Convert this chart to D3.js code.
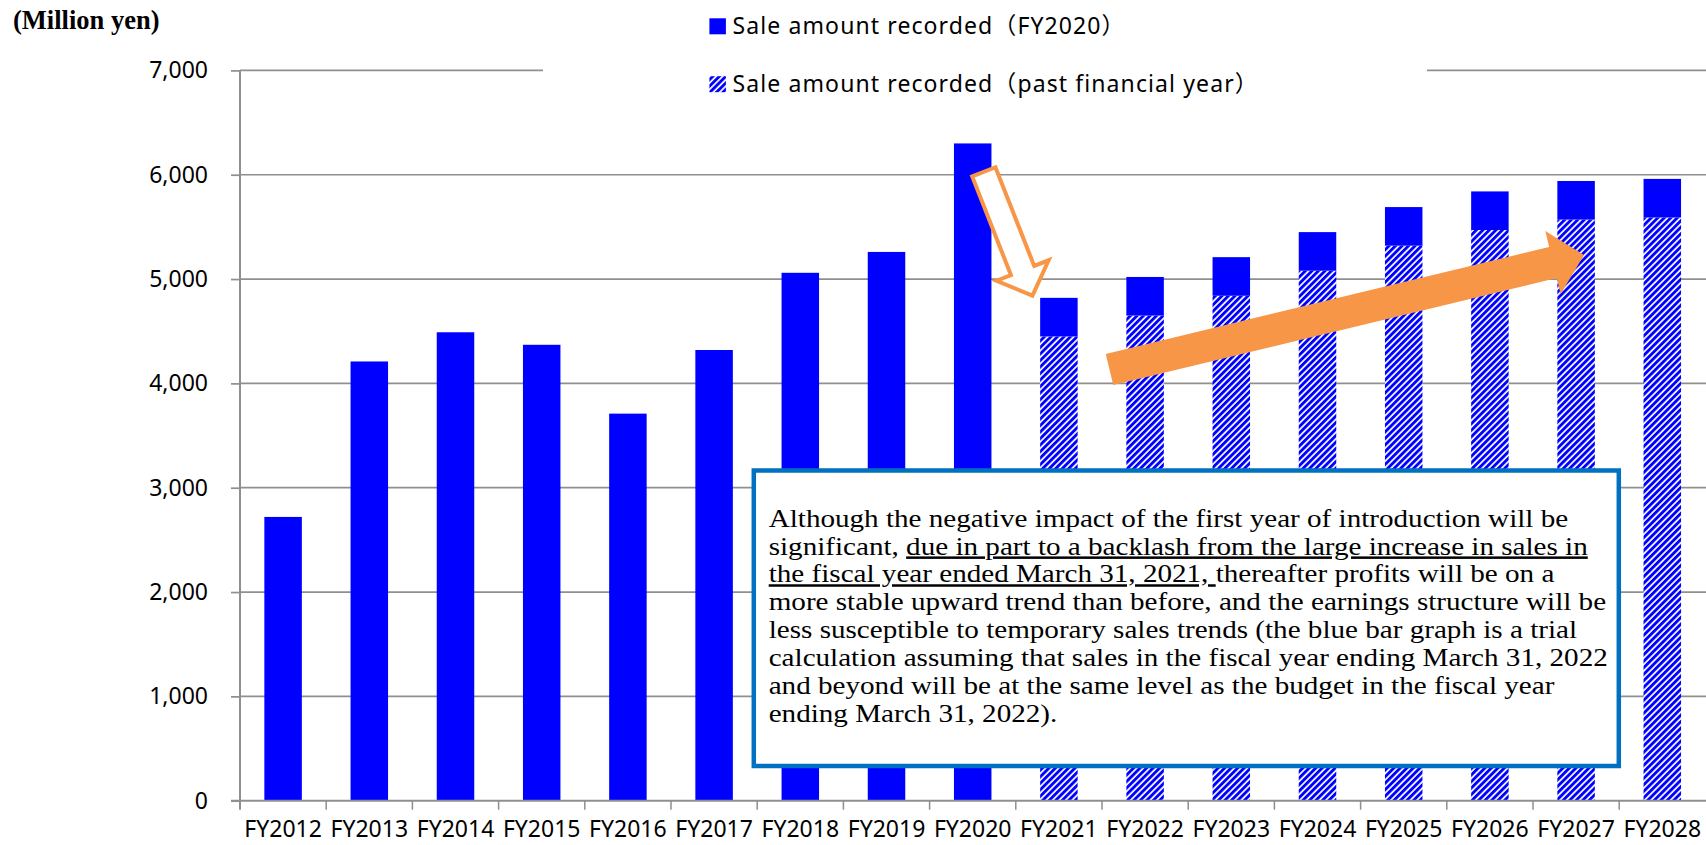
<!DOCTYPE html>
<html>
<head>
<meta charset="utf-8">
<script src="https://cdn.jsdelivr.net/npm/d3@7/dist/d3.min.js"></script>
<style>
  html, body { margin: 0; padding: 0; background: #fff; }
  svg { display: block; }
</style>
</head>
<body>
<svg id="chart" width="1706" height="845"></svg>
<script>
// Fiscal years on the category axis
const categories = ["FY2012", "FY2013", "FY2014", "FY2015", "FY2016", "FY2017", "FY2018", "FY2019", "FY2020",
  "FY2021", "FY2022", "FY2023", "FY2024", "FY2025", "FY2026", "FY2027", "FY2028"];

// Sales recorded from past financial years (hatched part, million yen)
const pastYearSales = [0, 0, 0, 0, 0, 0, 0, 0, 0, 4450, 4650, 4840, 5080, 5320, 5470, 5570, 5590];

// Sales recorded in the year itself (solid part, million yen)
const currentYearSales = [2720, 4210, 4490, 4370, 3710, 4320, 5060, 5260, 6300, 370, 370, 370, 370, 370, 370, 370, 370];

// Value axis ticks
const yTicks = [0, 1000, 2000, 3000, 4000, 5000, 6000, 7000];

// Legend entries
const legendLabels = ["Sale amount recorded（FY2020）", "Sale amount recorded（past financial year）"];

// Note text, one entry per line; segments flagged true are underlined
const noteLines = [
  [["Although the negative impact of the first year of introduction will be", false]],
  [["significant, ", false], ["due in part to a backlash from the large increase in sales in", true]],
  [["the fiscal year ended March 31, 2021, ", true], ["thereafter profits will be on a", false]],
  [["more stable upward trend than before, and the earnings structure will be", false]],
  [["less susceptible to temporary sales trends (the blue bar graph is a trial", false]],
  [["calculation assuming that sales in the fiscal year ending March 31, 2022", false]],
  [["and beyond will be at the same level as the budget in the fiscal year", false]],
  [["ending March 31, 2022).", false]]
];

// Trend arrows, given as [category position, value] for tail and tip
const dropArrow = { tail: [8.129, 6028], tip: [8.693, 4841] };
const riseArrow = { tail: [9.587, 4133], tip: [15.092, 5230] };

const BLUE = "#0000FF", ORANGE = "#F79646", GRID = "#8f8f8f";

const svg = d3.select("#chart");
const plot = { left: 240, right: 1705.4, top: 70.4, bottom: 800.7 };

const x = d3.scaleBand().domain(categories).range([plot.left, plot.right])
  .paddingInner(0.565).paddingOuter(0.2825);
const xCell = d3.scaleBand().domain(categories).range([plot.left, plot.right]).padding(0);
const y = d3.scaleLinear().domain([0, 7000]).range([plot.bottom, plot.top]);
const xPos = i => plot.left + (i + 0.5) * xCell.step();

// Hatch pattern for the past-year portion
const defs = svg.append("defs");
const hatch = defs.append("pattern").attr("id", "hatch")
  .attr("patternUnits", "userSpaceOnUse").attr("width", 4.6).attr("height", 4.6)
  .attr("patternTransform", "rotate(45)");
hatch.append("rect").attr("width", 4.6).attr("height", 4.6).attr("fill", "#fff");
hatch.append("rect").attr("width", 2.9).attr("height", 4.6).attr("fill", BLUE);

// Horizontal gridlines
svg.append("g").selectAll("line").data(yTicks.filter(d => d > 0)).join("line")
  .attr("x1", plot.left).attr("x2", plot.right + 1)
  .attr("y1", d => y(d)).attr("y2", d => y(d))
  .attr("stroke", GRID).attr("stroke-width", 1.7);

// Stacked bars
const rows = categories.map((c, i) => ({ cat: c, past: pastYearSales[i], current: currentYearSales[i] }));
const stacked = d3.stack().keys(["past", "current"])(rows);
svg.append("g").selectAll("g").data(stacked).join("g")
  .attr("fill", s => s.key === "past" ? "url(#hatch)" : BLUE)
  .selectAll("rect").data(s => s.filter(d => d[1] > d[0])).join("rect")
  .attr("x", d => x(d.data.cat)).attr("width", x.bandwidth())
  .attr("y", d => y(d[1])).attr("height", d => y(d[0]) - y(d[1]));

// Value axis
const yAxis = svg.append("g").attr("transform", `translate(${plot.left},0)`)
  .call(d3.axisLeft(y).tickValues(yTicks).tickFormat(d3.format(",")).tickSize(9).tickPadding(23));
yAxis.select(".domain").remove();
yAxis.selectAll(".tick line").attr("stroke", GRID).attr("stroke-width", 1.7);
yAxis.selectAll("text").attr("fill", "#000").style("font-family", "'Noto Sans', sans-serif").style("font-size", "23px");
svg.append("line").attr("x1", plot.left).attr("x2", plot.left)
  .attr("y1", plot.top).attr("y2", plot.bottom + 9)
  .attr("stroke", GRID).attr("stroke-width", 2);

// Category axis
svg.append("line").attr("x1", plot.left - 9).attr("x2", plot.right + 1)
  .attr("y1", plot.bottom).attr("y2", plot.bottom)
  .attr("stroke", GRID).attr("stroke-width", 2);
svg.append("g").selectAll("line").data(categories.slice(1)).join("line")
  .attr("x1", d => xCell(d)).attr("x2", d => xCell(d))
  .attr("y1", plot.bottom).attr("y2", plot.bottom + 9)
  .attr("stroke", GRID).attr("stroke-width", 1.5);
const xAxis = svg.append("g").attr("transform", `translate(0,${plot.bottom})`)
  .call(d3.axisBottom(x).tickSize(0).tickPadding(20));
xAxis.select(".domain").remove();
xAxis.selectAll("text").attr("fill", "#000").style("font-family", "'Noto Sans', sans-serif").style("font-size", "23px");

// Unit label
svg.append("text").attr("x", 13).attr("y", 28.5)
  .style("font-family", "'Liberation Serif', 'Times New Roman', serif")
  .style("font-weight", "bold").style("font-size", "26.5px")
  .text("(Million yen)");

// Legend (white backing interrupts the top gridline)
const legend = svg.append("g");
legend.append("rect").attr("x", 543).attr("y", 0).attr("width", 884).attr("height", 105).attr("fill", "#fff");
legendLabels.forEach((label, i) => {
  const top = i === 0 ? 18.3 : 76.2;
  legend.append("rect").attr("x", 709.4).attr("y", top).attr("width", 16.5).attr("height", 16)
    .attr("fill", i === 0 ? BLUE : "url(#hatch)");
  legend.append("text").attr("x", 732.6).attr("y", top + 16)
    .style("font-family", "'Noto Sans', 'Noto Sans CJK JP', sans-serif")
    .style("font-size", "23px").style("letter-spacing", "1.1px")
    .text(label);
});

// Arrow outline built from tail, tip, shaft half-width, head half-width and head length
function arrowPoints(tail, tip, shaftHalf, headHalf, headLen) {
  const dx = tip[0] - tail[0], dy = tip[1] - tail[1];
  const len = Math.hypot(dx, dy);
  const u = [dx / len, dy / len], n = [-u[1], u[0]];
  const base = [tip[0] - u[0] * headLen, tip[1] - u[1] * headLen];
  const p = (o, k) => [o[0] + n[0] * k, o[1] + n[1] * k];
  return [p(tail, shaftHalf), p(base, shaftHalf), p(base, headHalf), tip,
          p(base, -headHalf), p(base, -shaftHalf), p(tail, -shaftHalf)];
}
const toScreen = pt => [xPos(pt[0]), y(pt[1])];

svg.append("polygon")
  .attr("points", arrowPoints(toScreen(dropArrow.tail), toScreen(dropArrow.tip), 12.5, 28, 27).map(p => p.join(",")).join(" "))
  .attr("fill", "#fff").attr("stroke", ORANGE).attr("stroke-width", 4).attr("stroke-linejoin", "miter");

svg.append("polygon")
  .attr("points", arrowPoints(toScreen(riseArrow.tail), toScreen(riseArrow.tip), 16, 32.5, 32).map(p => p.join(",")).join(" "))
  .attr("fill", ORANGE);

// Note box: tightly leaded serif text, set slightly wide
const note = svg.append("g");
note.append("rect").attr("x", 753.8).attr("y", 470.5).attr("width", 865).attr("height", 295.5)
  .attr("fill", "#fff").attr("stroke", "#0070C0").attr("stroke-width", 4.5);
const noteText = note.append("g").attr("transform", "translate(768.7,0) scale(1.165,1)");
noteLines.forEach((segs, i) => {
  const line = noteText.append("text")
    .attr("x", 0).attr("y", 526.7 + i * 27.86)
    .style("font-family", "'Liberation Serif', 'Times New Roman', serif")
    .style("font-size", "25px").style("white-space", "pre").attr("fill", "#000");
  segs.forEach(([s, u]) => {
    const t = line.append("tspan").text(s);
    if (u) t.style("text-decoration", "underline");
  });
});
</script>
</body>
</html>
